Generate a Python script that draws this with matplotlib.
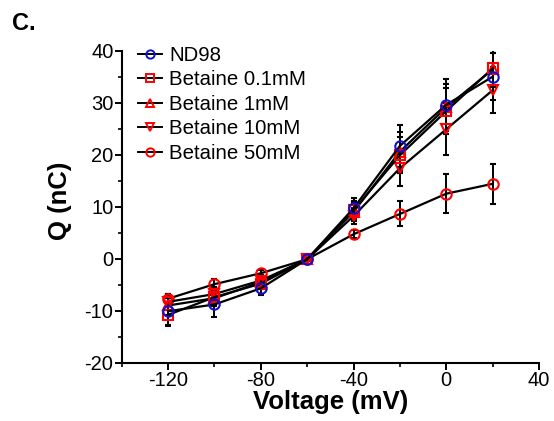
import numpy as np
import matplotlib
matplotlib.use("Agg")
from matplotlib import pyplot as plt
from matplotlib.lines import Line2D
from matplotlib.ticker import MultipleLocator

plt.rcParams['font.family'] = ['Liberation Sans', 'DejaVu Sans']
plt.rcParams['axes.unicode_minus'] = False

# voltage steps (mV)
voltage = [-120, -100, -80, -60, -40, -20, 0, 20]

# charge Q (nC) for each condition
q_nd98 = [-10.1, -8.8, -5.7, -0.1, 9.7, 21.7, 29.6, 35.0]
q_bet01 = [-10.8, -7.4, -4.8, -0.1, 9.3, 19.9, 28.4, 36.6]
q_bet1 = [-9.0, -7.6, -4.5, -0.1, 9.0, 20.6, 29.1, 36.4]
q_bet10 = [-8.3, -6.8, -4.2, -0.1, 8.2, 17.4, 24.9, 32.4]
q_bet50 = [-7.7, -4.9, -2.8, -0.1, 4.7, 8.6, 12.5, 14.4]

# error bars (nC)
e_nd98 = [2.6, 2.4, 1.2, 0.3, 2.0, 4.0, 5.0, 4.5]
e_bet01 = [2.2, 1.5, 1.0, 0.3, 1.8, 3.5, 4.5, 3.5]
e_bet1 = [1.8, 1.5, 1.0, 0.3, 1.8, 3.8, 4.5, 3.2]
e_bet10 = [1.6, 1.4, 1.0, 0.3, 1.6, 3.5, 5.0, 4.4]
e_bet50 = [1.0, 0.9, 0.6, 0.3, 0.8, 2.4, 3.7, 3.8]

labels = ["ND98", "Betaine 0.1mM", "Betaine 1mM", "Betaine 10mM", "Betaine 50mM"]
series = [q_nd98, q_bet01, q_bet1, q_bet10, q_bet50]
errors = [e_nd98, e_bet01, e_bet1, e_bet10, e_bet50]
markers = ['o', 's', '^', 'v', 'o']
colors = ['#1010d0', '#ff0000', '#ff0000', '#ff0000', '#ff0000']

fig = plt.figure(figsize=(5.54, 4.21), dpi=100)
ax = fig.add_axes([0.2197, 0.1385, 0.7533, 0.7411])

# draw 50mM first so the others sit on top
for i in [4, 3, 2, 1, 0]:
    ax.errorbar(voltage, series[i], yerr=errors[i], color='black', lw=1.6,
                elinewidth=1.4, capsize=2.5, capthick=1.4,
                marker=markers[i], markersize=7.5, markerfacecolor='none',
                markeredgecolor=colors[i], markeredgewidth=1.5)

# legend shows only line + marker, no error bars
handles = [Line2D([], [], color='black', lw=1.4, marker=markers[i], markersize=6,
                  markerfacecolor='none', markeredgecolor=colors[i],
                  markeredgewidth=1.4) for i in range(len(labels))]
ax.legend(handles, labels, loc='upper left', bbox_to_anchor=(0.005, 1.061),
          frameon=False, fontsize=14.7, handlelength=1.18, handletextpad=0.34,
          labelspacing=0.27, borderaxespad=0.3)

ax.set_xlim(-140, 40)
ax.set_ylim(-20, 40)
ax.xaxis.set_major_locator(MultipleLocator(40))
ax.xaxis.set_minor_locator(MultipleLocator(20))
ax.yaxis.set_major_locator(MultipleLocator(10))
ax.yaxis.set_minor_locator(MultipleLocator(5))
ax.spines['top'].set_visible(False)
ax.spines['right'].set_visible(False)
for s in ['left', 'bottom']:
    ax.spines[s].set_linewidth(1.5)
ax.tick_params(which='major', direction='out', length=5, width=1.4, labelsize=14.5, pad=1)
ax.tick_params(which='minor', direction='out', length=3, width=1.2)

ax.set_xlabel("Voltage (mV)", fontsize=18.5, fontweight='bold', labelpad=0)
ax.set_ylabel("Q (nC)", fontsize=18.5, fontweight='bold')
ax.yaxis.label.set(va='center', ha='center', rotation_mode='default')
ax.yaxis.set_label_coords(-0.148, 0.52)

fig.text(0.022, 0.945, "C.", fontsize=17, fontweight='bold', va='center', ha='left')

fig.savefig("out.png", dpi=100)
